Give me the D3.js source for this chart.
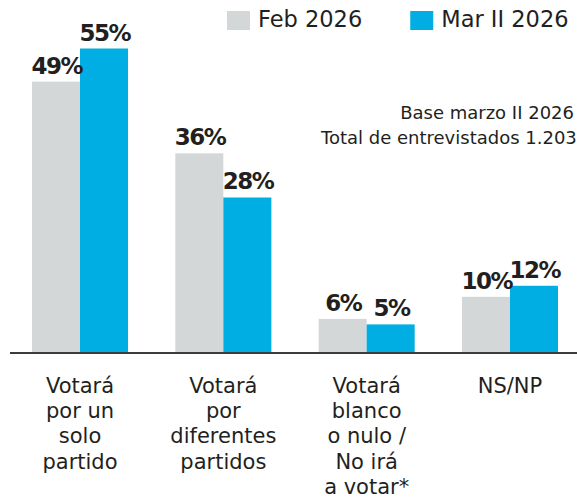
<!DOCTYPE html>
<html lang="es">
<head>
<meta charset="utf-8">
<title>Intención de voto</title>
<script src="https://cdn.jsdelivr.net/npm/d3@7"></script>
<style>
    body {
        margin: 0;
        background: #ffffff;
    }
    #chart svg {
        display: block;
    }
</style>
</head>
<body>
<div id="chart"></div>
<script>
// Datos
const categories = [
    'Votará\npor un\nsolo\npartido',
    'Votará\npor\ndiferentes\npartidos',
    'Votará\nblanco\no nulo /\nNo irá\na votar*',
    'NS/NP',
]
const seriesNames = ['Feb 2026', 'Mar II 2026']
const feb2026 = [49, 36, 6, 10]
const marII2026 = [55, 28, 5, 12]
const baseNote = ['Base marzo II 2026', 'Total de entrevistados 1.203']

/*
* Configuración general: tamaño, colores y tipografías
*/
const config = {
    width: 577,
    height: 500,
    plot: { left: 32, right: 558, top: 48.5, bottom: 352 },
    colors: ['#d4d7d8', '#00aee3'],
    text: '#231f20',
    axis: '#3b3b3b',
    font: "'DejaVu Sans', sans-serif",
}

const svg = d3
    .select('#chart')
    .append('svg')
    .attr('width', config.width)
    .attr('height', config.height)
    .style('font-family', config.font)

// Se arma una tabla con un valor por serie para cada categoría
const table = categories.map((c, i) => ({
    category: c,
    values: [feb2026[i], marII2026[i]],
}))

// Escalas: grupos, barras dentro del grupo y porcentaje
const x0 = d3
    .scaleBand()
    .domain(categories)
    .range([config.plot.left, config.plot.right])
    .paddingInner(0.33)
    .paddingOuter(0)

const x1 = d3
    .scaleBand()
    .domain(seriesNames)
    .range([0, x0.bandwidth()])

const y = d3
    .scaleLinear()
    .domain([0, d3.max(marII2026)])
    .range([config.plot.bottom, config.plot.top])

// Barras
const groups = svg
    .selectAll('g.group')
    .data(table)
    .enter()
    .append('g')
    .attr('class', 'group')
    .attr('transform', (d) => 'translate(' + x0(d.category) + ',0)')

groups
    .selectAll('rect')
    .data((d) => d.values.map((v, j) => ({ name: seriesNames[j], value: v, j })))
    .enter()
    .append('rect')
    .attr('x', (d) => x1(d.name))
    .attr('y', (d) => y(d.value))
    .attr('width', x1.bandwidth())
    .attr('height', (d) => y(0) - y(d.value))
    .attr('fill', (d) => config.colors[d.j])

// Etiquetas de valor encima de cada barra
groups
    .selectAll('text.value')
    .data((d) => d.values.map((v, j) => ({ name: seriesNames[j], value: v })))
    .enter()
    .append('text')
    .attr('class', 'value')
    .attr('x', (d) => x1(d.name) + x1.bandwidth() / 2 + 0.75)
    .attr('y', (d) => y(d.value) - 8)
    .attr('text-anchor', 'middle')
    .style('font-size', '23px')
    .style('font-weight', 'bold')
    .style('letter-spacing', '-1.5px')
    .attr('fill', config.text)
    .text((d) => d.value + '%')

// Línea base
svg.append('line')
    .attr('x1', 10)
    .attr('x2', config.width)
    .attr('y1', y(0) + 1)
    .attr('y2', y(0) + 1)
    .attr('stroke', config.axis)
    .attr('stroke-width', 2)

// Eje X con etiquetas en varias líneas
const xAxis = svg
    .append('g')
    .attr('transform', 'translate(0,' + (y(0) + 1) + ')')
    .call(d3.axisBottom(x0).tickSize(0))

xAxis.select('.domain').remove()

xAxis
    .selectAll('text')
    .attr('fill', config.text)
    .style('font-size', '21px')
    .style('font-family', config.font)
    .attr('y', 0)
    .attr('dy', null)
    .each(function (d) {
        const lines = d.split('\n')
        const t = d3.select(this).text(null)
        lines.forEach((line, i) => {
            t.append('tspan')
                .attr('x', 0)
                .attr('y', 39.7 + i * 25.3)
                .text(line)
        })
    })

// Leyenda
const legend = svg.append('g').attr('transform', 'translate(227,0)')
let lx = 0
seriesNames.forEach((name, i) => {
    const item = legend.append('g').attr('transform', 'translate(' + lx + ',0)')
    item.append('rect')
        .attr('x', 0)
        .attr('y', 11)
        .attr('width', 23)
        .attr('height', 19)
        .attr('fill', config.colors[i])
    const label = item
        .append('text')
        .attr('x', 31)
        .attr('y', 27.3)
        .style('font-size', '22.5px')
        .attr('fill', config.text)
        .text(name)
    lx += 31 + label.node().getComputedTextLength() + 48
})

// Nota de base
svg.append('text')
    .attr('x', 574)
    .attr('y', 119.3)
    .attr('text-anchor', 'end')
    .style('font-size', '18px')
    .attr('fill', config.text)
    .text(baseNote[0])

svg.append('text')
    .attr('x', 321)
    .attr('y', 144)
    .style('font-size', '18px')
    .attr('fill', config.text)
    .text(baseNote[1])
</script>
</body>
</html>
